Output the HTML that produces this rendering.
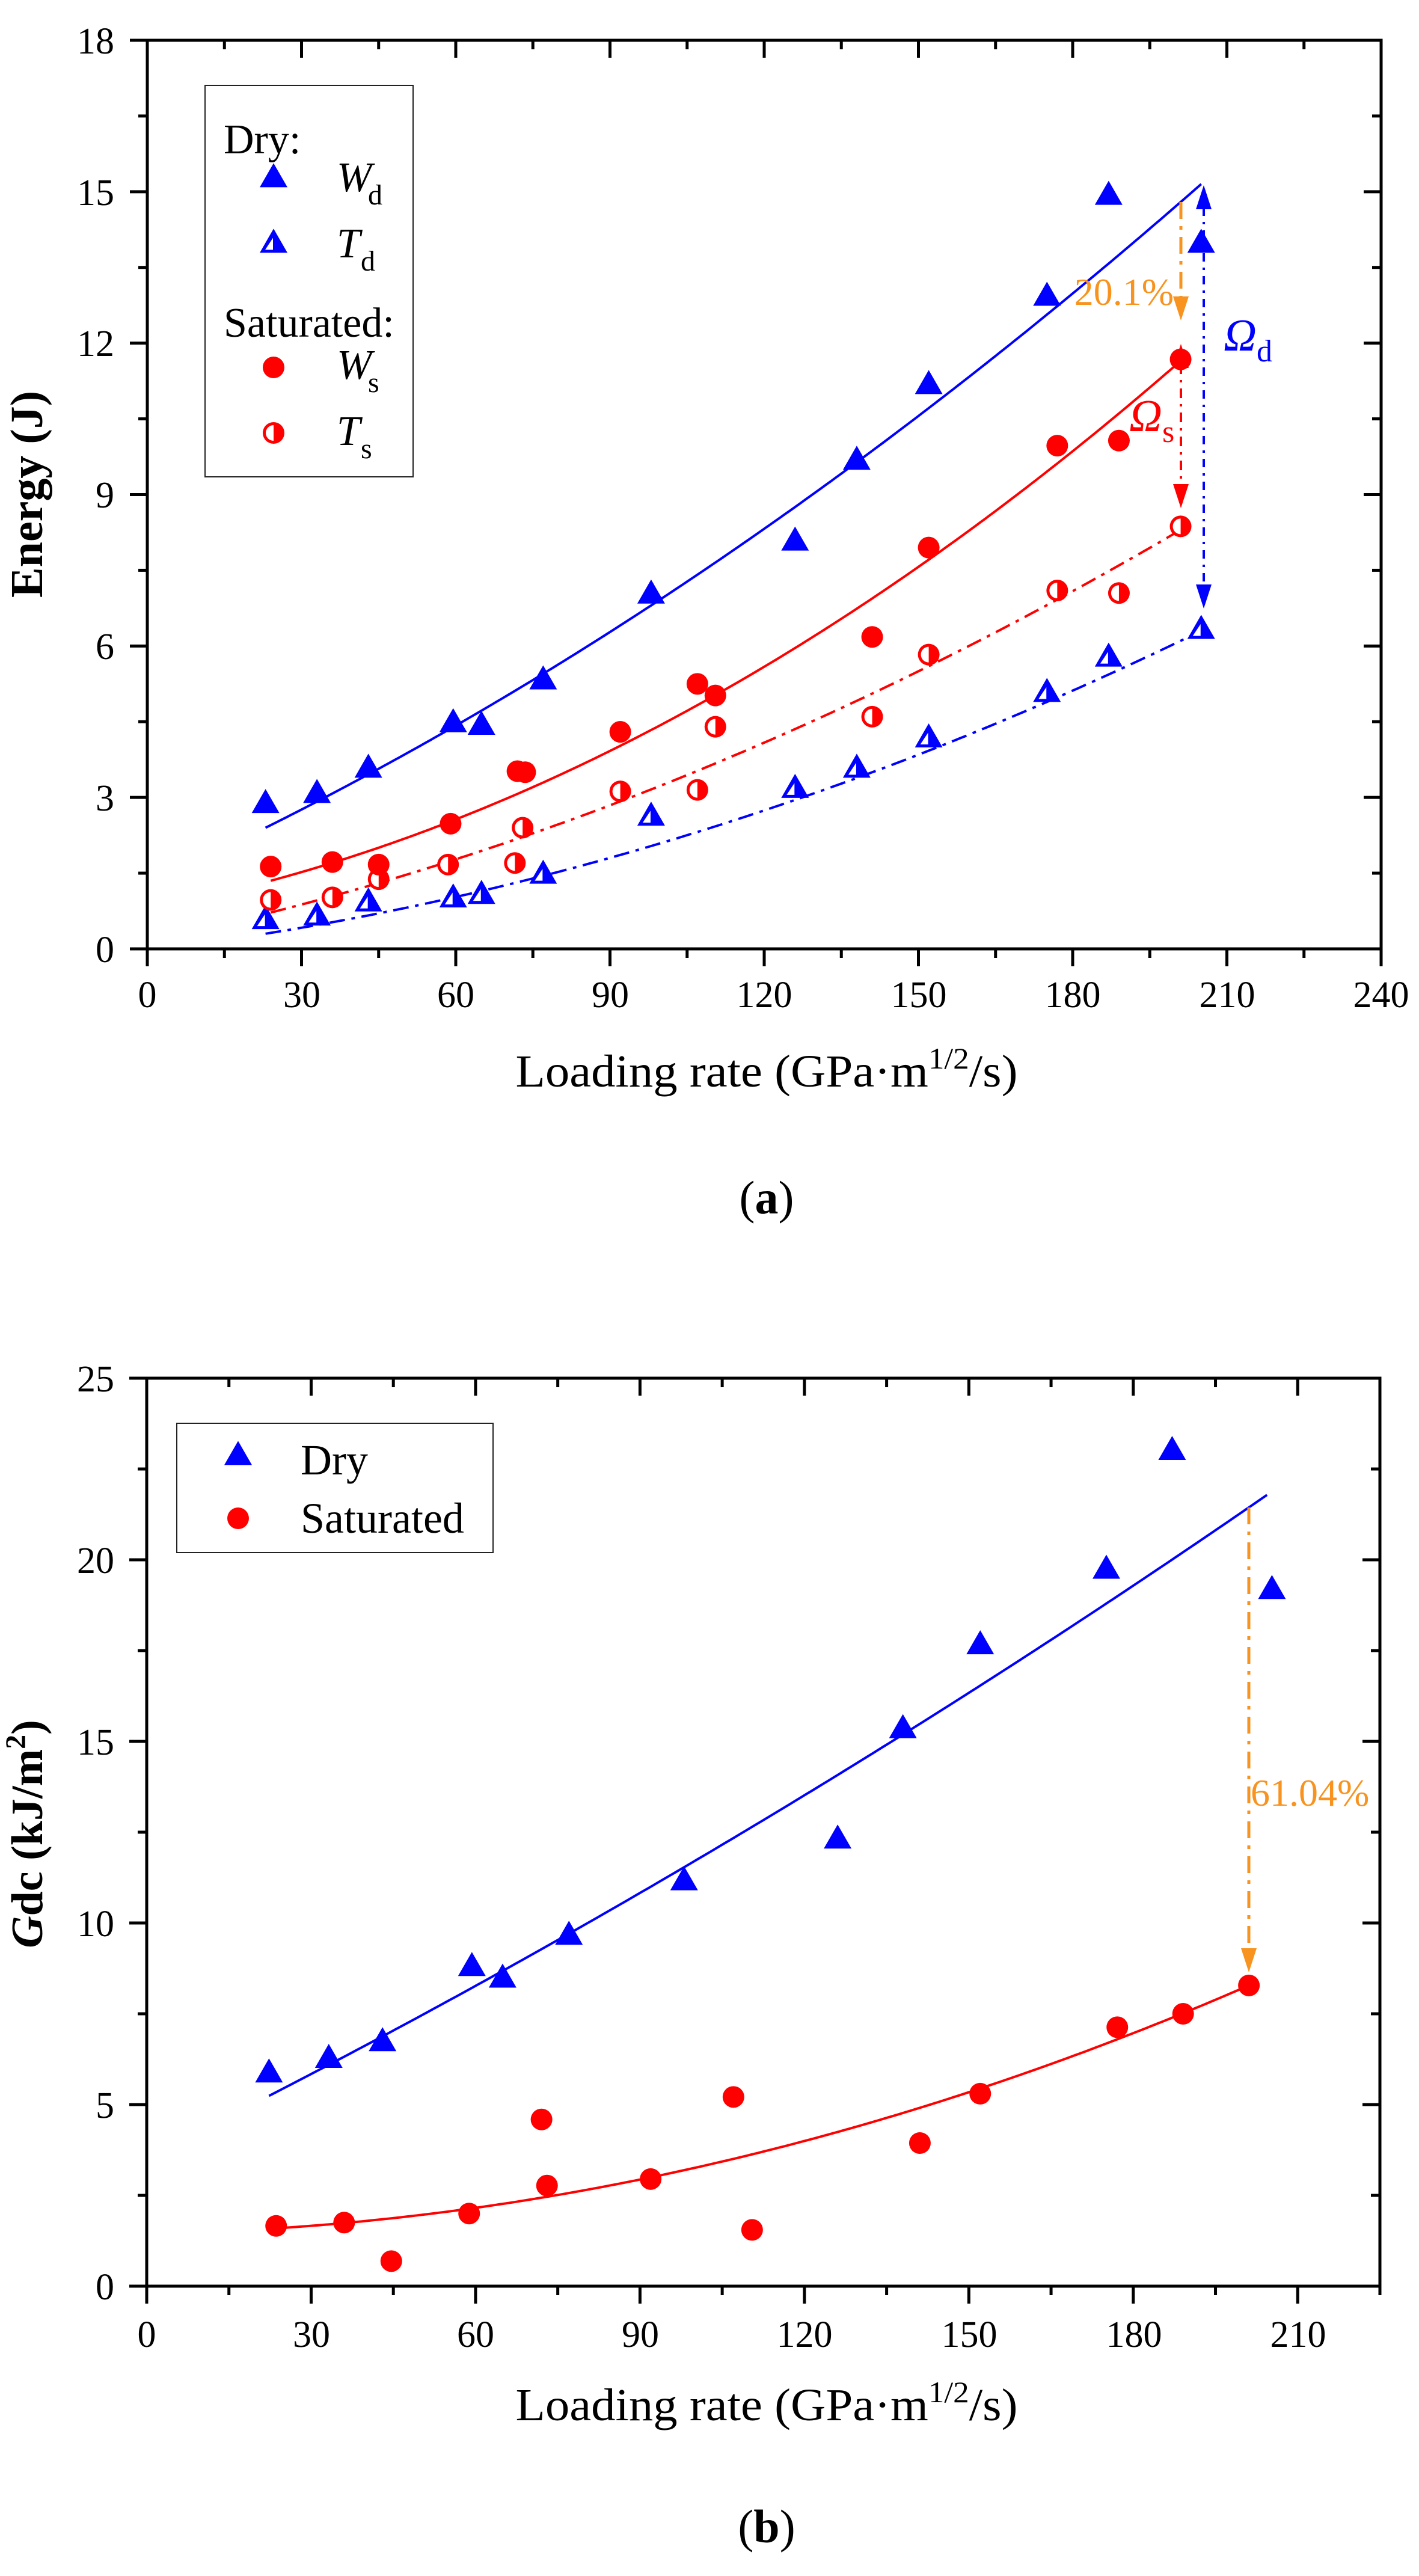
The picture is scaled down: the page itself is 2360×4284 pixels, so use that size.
<!DOCTYPE html>
<html><head><meta charset="utf-8"><style>
html,body{margin:0;padding:0;background:#fff;}
svg{display:block;}
svg text{font-family:"Liberation Serif","Times New Roman",Times,serif;}
</style></head><body>
<svg id="s" width="2360" height="4284" viewBox="0 0 2360 4284" xmlns="http://www.w3.org/2000/svg" font-family="'Liberation Serif','Times New Roman',serif">
<rect width="2360" height="4284" fill="#fff"/>
<g id="g"></g>
<!-- Plot a texts -->
<g font-size="62" text-anchor="end" fill="#000">
<text x="190" y="1600">0</text><text x="190" y="1348">3</text><text x="190" y="1096">6</text><text x="190" y="844">9</text><text x="190" y="592">12</text><text x="190" y="341">15</text><text x="190" y="89">18</text>
</g>
<g font-size="62" text-anchor="middle" fill="#000">
<text x="245" y="1675">0</text><text x="502" y="1675">30</text><text x="758" y="1675">60</text><text x="1015" y="1675">90</text><text x="1271" y="1675">120</text><text x="1528" y="1675">150</text><text x="1784" y="1675">180</text><text x="2041" y="1675">210</text><text x="2297" y="1675">240</text>
</g>
<text x="1275" y="1807" font-size="76" text-anchor="middle" textLength="835" lengthAdjust="spacingAndGlyphs">Loading rate (GPa·m<tspan font-size="50" dy="-30">1/2</tspan><tspan dy="30">/s)</tspan></text>
<text transform="translate(70,822) rotate(-90)" font-size="76" font-weight="bold" text-anchor="middle">Energy (J)</text>
<text x="1275" y="2018" font-size="78" text-anchor="middle">(<tspan font-weight="bold">a</tspan>)</text>
<!-- legend a -->
<rect x="341" y="142" width="346" height="651" fill="#fff" stroke="#222" stroke-width="2"/>
<g font-size="70" fill="#000">
<text x="372" y="255">Dry:</text>
<text x="560" y="318" font-style="italic">W</text><text x="612" y="340" font-size="48">d</text>
<text x="560" y="428" font-style="italic">T</text><text x="600" y="450" font-size="48">d</text>
<text x="372" y="560">Saturated:</text>
<text x="560" y="630" font-style="italic">W</text><text x="612" y="652" font-size="48">s</text>
<text x="560" y="740" font-style="italic">T</text><text x="600" y="762" font-size="48">s</text>
</g>
<text x="1952" y="507" font-size="64" fill="#f7931e" text-anchor="end">20.1%</text>
<text x="2035" y="583" font-size="76" fill="#0000ff" font-style="italic">Ω<tspan font-style="normal" font-size="52" dy="18">d</tspan></text>
<text x="1878" y="717" font-size="76" fill="#ff0000" font-style="italic">Ω<tspan font-style="normal" font-size="52" dy="18">s</tspan></text>
<!-- Plot b texts -->
<g font-size="62" text-anchor="end" fill="#000">
<text x="190" y="3824">0</text><text x="190" y="3522">5</text><text x="190" y="3220">10</text><text x="190" y="2918">15</text><text x="190" y="2616">20</text><text x="190" y="2314">25</text>
</g>
<g font-size="62" text-anchor="middle" fill="#000">
<text x="244" y="3903">0</text><text x="518" y="3903">30</text><text x="791" y="3903">60</text><text x="1065" y="3903">90</text><text x="1338" y="3903">120</text><text x="1612" y="3903">150</text><text x="1886" y="3903">180</text><text x="2159" y="3903">210</text>
</g>
<text x="1275" y="4025" font-size="76" text-anchor="middle" textLength="835" lengthAdjust="spacingAndGlyphs">Loading rate (GPa·m<tspan font-size="50" dy="-30">1/2</tspan><tspan dy="30">/s)</tspan></text>
<text transform="translate(70,3050) rotate(-90)" font-size="74" font-weight="bold" text-anchor="middle"><tspan font-style="italic">G</tspan>dc (kJ/m<tspan font-size="48" dy="-28">2</tspan><tspan dy="28">)</tspan></text>
<text x="1275" y="4228" font-size="78" text-anchor="middle">(<tspan font-weight="bold">b</tspan>)</text>
<rect x="294" y="2367" width="526" height="215" fill="#fff" stroke="#222" stroke-width="2"/>
<g font-size="72" fill="#000">
<text x="500" y="2452">Dry</text>
<text x="500" y="2549">Saturated</text>
</g>
<text x="2080" y="3003" font-size="64" fill="#f7931e">61.04%</text>
<g id="g2"></g>
</svg>
<script>
(function(){
var g=document.getElementById('g');var NS='http://www.w3.org/2000/svg';
function el(n,a){var e=document.createElementNS(NS,n);for(var k in a)e.setAttribute(k,a[k]);g.appendChild(e);return e;}
var BL='#0000ff',RD='#ff0000',OR='#f7931e';
function axes(L,T,R,B,xmax,xstep,ymax,ystep){
 el('rect',{x:L,y:T,width:R-L,height:B-T,fill:'none',stroke:'#000','stroke-width':5});
 var nx=xmax/xstep*2;
 for(var i=0;i<=nx;i++){var x=L+(R-L)*i/nx;var len=i%2?15:29;
  el('line',{x1:x,y1:B,x2:x,y2:B+len,stroke:'#000','stroke-width':5});
  el('line',{x1:x,y1:T,x2:x,y2:T+len,stroke:'#000','stroke-width':5});}
 var ny=ymax/ystep*2;
 for(var j=0;j<=ny;j++){var y=B-(B-T)*j/ny;var len=j%2?15:29;
  el('line',{x1:L,y1:y,x2:L-len,y2:y,stroke:'#000','stroke-width':5});
  el('line',{x1:R,y1:y,x2:R-len,y2:y,stroke:'#000','stroke-width':5});}
}
function tri(x,y,c,half){var h=40,w=46;
 el('polygon',{points:(x-w/2)+','+(y+h/3)+' '+(x+w/2)+','+(y+h/3)+' '+x+','+(y-2*h/3),fill:c});
 if(half)el('polygon',{points:(x-w/2+9)+','+(y+h/3-5)+' '+(x-1)+','+(y+h/3-5)+' '+(x-1)+','+(y-h/3+2),fill:'#fff'});}
function circ(x,y,c,half){el('circle',{cx:x,cy:y,r:18,fill:c});
 if(half)el('path',{d:'M'+x+','+(y-13)+' A13,13 0 0,0 '+x+','+(y+13)+' Z',fill:'#fff'});}
function curve(f,X,Y,x0,x1,c,dash){var p='';for(var v=x0;v<=x1+0.01;v+=1){p+=(p?' L':'M')+X(v).toFixed(1)+','+Y(f(v)).toFixed(1);}
 var a={d:p,fill:'none',stroke:c,'stroke-width':4};if(dash)a['stroke-dasharray']=dash;el('path',a);}
function arrow(x,tip,dir,c){var b=tip+dir*40;el('polygon',{points:(x-13)+','+b+' '+(x+13)+','+b+' '+x+','+tip,fill:c});}
var XA=function(v){return 245+8.55*v},YA=function(v){return 1578-83.94*v};
axes(245,67,2297,1578,240,30,18,3);
var DD='26,11,6,11';
curve(function(x){return 1.288+0.0459*x+0.000106*x*x},XA,YA,23,205,BL);
curve(function(x){return 0.788+0.01924*x+0.0001731*x*x},XA,YA,24,201,RD);
curve(function(x){return 0.155+0.02125*x+0.0000959*x*x},XA,YA,24,201,RD,DD);
curve(function(x){return -0.026+0.01208*x+0.0000916*x*x},XA,YA,23,205,BL,DD);
var Wd=[[23,2.85],[33,3.05],[43,3.55],[59.5,4.45],[65,4.4],[77,5.3],[98,7.0],[126,8.05],[138,9.65],[152,11.15],[175,12.9],[187,14.9],[205,13.95]];
var Td=[[23,0.55],[33,0.62],[43,0.9],[59.5,0.98],[65,1.05],[77,1.45],[98,2.6],[126,3.15],[138,3.55],[152,4.15],[175,5.05],[187,5.75],[205,6.3]];
var Ws=[[24,1.63],[36,1.72],[45,1.67],[59,2.48],[72,3.52],[73.5,3.5],[92,4.3],[107,5.25],[110.5,5.02],[141,6.18],[152,7.95],[177,9.97],[189,10.07],[201,11.68]];
var Ts=[[24,0.97],[36,1.02],[45,1.38],[58.5,1.67],[71.5,1.7],[73,2.4],[92,3.12],[107,3.15],[110.5,4.4],[141,4.6],[152,5.83],[177,7.1],[189,7.05],[201,8.37]];
Td.forEach(function(p){tri(XA(p[0]),YA(p[1]),BL,true)});
Ts.forEach(function(p){circ(XA(p[0]),YA(p[1]),RD,true)});
Ws.forEach(function(p){circ(XA(p[0]),YA(p[1]),RD)});
Wd.forEach(function(p){tri(XA(p[0]),YA(p[1]),BL)});
el('line',{x1:1964,y1:336,x2:1964,y2:500,stroke:OR,'stroke-width':5,'stroke-dasharray':'28,12,6,12'});arrow(1964,533,-1,OR);
el('line',{x1:2002,y1:345,x2:2002,y2:975,stroke:BL,'stroke-width':4,'stroke-dasharray':'14,10,4,10'});arrow(2002,308,1,BL);arrow(2002,1012,-1,BL);
el('line',{x1:1964,y1:606,x2:1964,y2:808,stroke:RD,'stroke-width':4,'stroke-dasharray':'16,10,4,10'});arrow(1964,572,1,RD);arrow(1964,845,-1,RD);
var XB=function(v){return 244+9.12*v},YB=function(v){return 3802-60.4*v};
axes(244,2292,2295,3802,225,30,25,5);
curve(function(x){return 3.545+0.07439*x+0.0000729*x*x},XB,YB,22.3,205,BL);
curve(function(x){return 1.448+0.00241*x+0.0001571*x*x},XB,YB,22.3,201,RD);
var D=[[22.3,5.83],[33.2,6.23],[43,6.69],[59.3,8.76],[64.9,8.44],[77,9.62],[98,11.12],[126,12.27],[137.9,15.31],[152,17.62],[175,19.7],[187,22.97],[205.2,19.14]];
var S=[[23.6,1.66],[36,1.75],[44.6,0.69],[58.8,2.0],[72,4.59],[73,2.77],[91.9,2.95],[107,5.21],[110.4,1.55],[141,3.94],[152,5.3],[177,7.13],[189,7.5],[201,8.28]];
D.forEach(function(p){tri(XB(p[0]),YB(p[1]),BL)});
S.forEach(function(p){circ(XB(p[0]),YB(p[1]),RD)});
el('line',{x1:2077,y1:2507,x2:2077,y2:3242,stroke:OR,'stroke-width':5,'stroke-dasharray':'28,12,6,12'});arrow(2077,3280,-1,OR);
g=document.getElementById('g2');
tri(455,298,BL);tri(455,407,BL,true);circ(455,611,RD);circ(455,720,RD,true);
tri(396,2423,BL);circ(396,2525,RD);
})();
</script>
</body></html>
